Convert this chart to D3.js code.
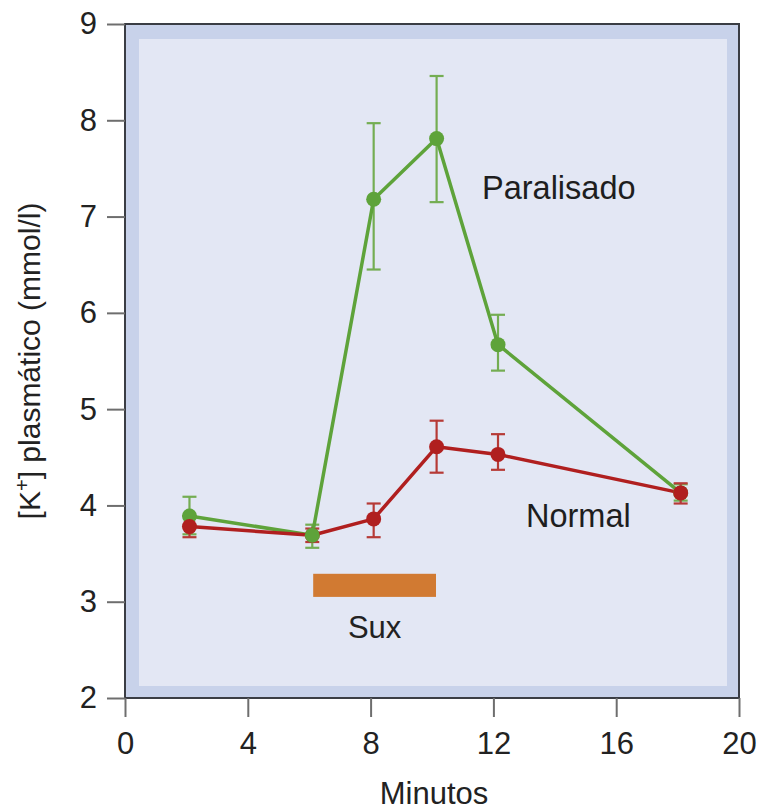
<!DOCTYPE html>
<html>
<head>
<meta charset="utf-8">
<script src="https://cdn.jsdelivr.net/npm/d3@7"></script>
<style>
  html, body { margin: 0; padding: 0; background: #ffffff; }
  svg { display: block; font-family: "Liberation Sans", Arial, Helvetica, sans-serif; }
</style>
</head>
<body>
<svg id="chart" width="761" height="811"></svg>
<script>
// ---- Data ----
const minutes = [2.1, 6.1, 8.1, 10.15, 12.15, 18.1];
const paralisadoMean = [3.89, 3.69, 7.18, 7.81, 5.67, 4.13];
const paralisadoLow  = [3.70, 3.56, 6.45, 7.15, 5.40, 4.05];
const paralisadoHigh = [4.09, 3.80, 7.97, 8.46, 5.98, 4.22];
const normalMean = [3.78, 3.69, 3.86, 4.61, 4.53, 4.13];
const normalLow  = [3.67, 3.62, 3.67, 4.34, 4.37, 4.02];
const normalHigh = [3.89, 3.76, 4.02, 4.88, 4.74, 4.23];
const xTicks = [0, 4, 8, 12, 16, 20];
const yTicks = [2, 3, 4, 5, 6, 7, 8, 9];
const suxStart = 6.13, suxEnd = 10.13, suxLow = 3.05, suxHigh = 3.29;
const xDomain = [0, 20], yDomain = [2, 9];
const xLabel = "Minutos";
const seriesNames = ["Paralisado", "Normal"];

// ---- Layout ----
const svg = d3.select("#chart");
const x = d3.scaleLinear().domain(xDomain).range([125, 739]);
const y = d3.scaleLinear().domain(yDomain).range([698, 24]);

const colors = { Paralisado: "#5ea33a", Normal: "#b01f1f" };
const errColors = { Paralisado: "#74ad52", Normal: "#b63a36" };

// Plot background (outer band + inner panel)
svg.append("rect")
  .attr("x", x(0)).attr("y", y(9))
  .attr("width", x(20) - x(0)).attr("height", y(2) - y(9))
  .attr("fill", "#c8d2ea");
svg.append("rect")
  .attr("x", x(0) + 14).attr("y", y(9) + 15)
  .attr("width", x(20) - x(0) - 14 - 12).attr("height", y(2) - y(9) - 15 - 12)
  .attr("fill", "#e3e7f4");

// Frame
svg.append("rect")
  .attr("x", x(0)).attr("y", y(9))
  .attr("width", x(20) - x(0)).attr("height", y(2) - y(9))
  .attr("fill", "none").attr("stroke", "#3a3d44").attr("stroke-width", 2);

// Axes
const xAxis = d3.axisBottom(x).tickValues(xTicks).tickSize(19).tickPadding(15).tickFormat(d3.format("d"));
const gx = svg.append("g").attr("transform", `translate(0,${y(2)})`).call(xAxis);
gx.select(".domain").remove();
gx.selectAll(".tick line").attr("stroke", "#6e6e6e").attr("stroke-width", 2);
gx.selectAll(".tick text").attr("font-size", 31).attr("fill", "#222")
  .attr("font-family", "'Liberation Sans', Arial, sans-serif");

const yAxis = d3.axisLeft(y).tickValues(yTicks).tickSize(18).tickPadding(10).tickFormat(d3.format("d"));
const gy = svg.append("g").attr("transform", `translate(${x(0)},0)`).call(yAxis);
gy.select(".domain").remove();
gy.selectAll(".tick line").attr("stroke", "#6e6e6e").attr("stroke-width", 2);
gy.selectAll(".tick text").attr("font-size", 31).attr("fill", "#222")
  .attr("font-family", "'Liberation Sans', Arial, sans-serif");

// Axis titles
svg.append("text")
  .attr("x", 434).attr("y", 804)
  .attr("text-anchor", "middle").attr("font-size", 31).attr("fill", "#222")
  .text(xLabel);

const yt = svg.append("text")
  .attr("transform", `translate(40,${(y(2) + y(9)) / 2}) rotate(-90)`)
  .attr("text-anchor", "middle").attr("font-size", 30).attr("fill", "#222");
yt.append("tspan").text("[K");
yt.append("tspan").attr("dy", -11).attr("font-size", 20).text("+");
yt.append("tspan").attr("dy", 11).text("] plasmático (mmol/l)");

// Sux bar
svg.append("rect")
  .attr("x", x(suxStart)).attr("y", y(suxHigh))
  .attr("width", x(suxEnd) - x(suxStart)).attr("height", y(suxLow) - y(suxHigh))
  .attr("fill", "#d17a32");
svg.append("text")
  .attr("x", (x(suxStart) + x(suxEnd)) / 2).attr("y", 638)
  .attr("text-anchor", "middle").attr("font-size", 31).attr("fill", "#222")
  .text("Sux");

// Series
const series = [
  { name: "Paralisado", mean: paralisadoMean, low: paralisadoLow, high: paralisadoHigh },
  { name: "Normal", mean: normalMean, low: normalLow, high: normalHigh }
].map(s => ({ ...s, pts: minutes.map((m, i) => ({ x: m, v: s.mean[i], lo: s.low[i], hi: s.high[i], i })) }));

const line = d3.line().x(d => x(d.x)).y(d => y(d.v));

// error bars
series.forEach(s => {
  const g = svg.append("g").attr("stroke", errColors[s.name]).attr("stroke-width", 2.2).attr("fill", "none");
  s.pts.forEach(p => {
    g.append("line").attr("x1", x(p.x)).attr("x2", x(p.x)).attr("y1", y(p.lo)).attr("y2", y(p.hi));
    g.append("line").attr("x1", x(p.x) - 7).attr("x2", x(p.x) + 7).attr("y1", y(p.lo)).attr("y2", y(p.lo));
    g.append("line").attr("x1", x(p.x) - 7).attr("x2", x(p.x) + 7).attr("y1", y(p.hi)).attr("y2", y(p.hi));
  });
});

// lines
series.forEach(s => {
  svg.append("path").datum(s.pts)
    .attr("d", line).attr("fill", "none")
    .attr("stroke", colors[s.name]).attr("stroke-width", 3.5)
    .attr("stroke-linejoin", "round");
});

// markers: Normal on top, except at 6 min where Paralisado is on top
const allPts = [];
series.forEach(s => s.pts.forEach(p => allPts.push({ ...p, name: s.name })));
const zTop = (p) => (p.i === 1 ? (p.name === "Paralisado" ? 1 : 0) : (p.name === "Normal" ? 1 : 0));
allPts.sort((a, b) => zTop(a) - zTop(b));
svg.append("g").selectAll("circle").data(allPts).join("circle")
  .attr("cx", d => x(d.x)).attr("cy", d => y(d.v)).attr("r", 7.5)
  .attr("fill", d => colors[d.name]);

// series labels
svg.append("text").attr("x", 482).attr("y", 199)
  .attr("font-size", 32.5).attr("fill", "#1e1e1e").text(seriesNames[0]);
svg.append("text").attr("x", 526).attr("y", 527)
  .attr("font-size", 32.5).attr("fill", "#1e1e1e").text(seriesNames[1]);
</script>
</body>
</html>
